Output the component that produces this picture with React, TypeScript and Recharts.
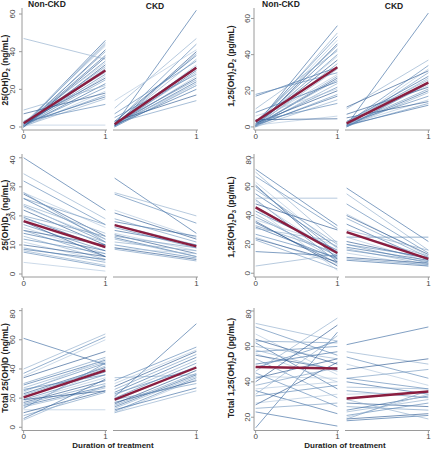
import { LineChart, Line, XAxis, YAxis } from "recharts"

// each pair = [baseline, after treatment], one per patient
const d2NonCkd = [
  [1, 46], [0.5, 45], [1, 44], [2, 43], [0, 41], [1, 40], [0.5, 38], [47, 36], [1, 35], [2, 34],
  [0, 33], [1, 31], [0.5, 30], [3, 29], [1, 28], [0, 27], [2, 26], [1, 25], [0.5, 23], [9, 22],
  [1, 21], [0, 19], [7, 18], [1, 17], [2, 16], [0.5, 15], [3, 12], [1, 1], [0, 37], [1.5, 32],
]
const d2NonCkdMean = [2, 30]
const d2Ckd = [
  [1, 62], [10, 47], [2, 44], [14, 41], [1, 40], [0.5, 39], [3, 38], [1, 36], [7, 35], [0, 33],
  [2, 32], [1, 31], [0.5, 30], [1, 29], [5, 28], [0, 27], [1, 26], [2, 25], [0.5, 24], [1, 23],
  [0, 22], [1.5, 22], [3, 17], [2, 14], [1, 20],
]
const d2CkdMean = [1.5, 31.5]

const d2HormNonCkd = [
  [1, 56], [0.5, 52], [2, 50], [1, 48], [0, 46], [3, 45], [1, 43], [10, 42], [0.5, 40], [2, 39],
  [1, 37], [0, 35], [17, 33], [1, 32], [18, 30], [2, 29], [0.5, 27], [1, 26], [8, 25], [0, 24],
  [1, 22], [6, 21], [2, 20], [0.5, 18], [1, 17], [0, 15], [3, 13], [1, 6], [4, 4.5], [0.5, 28],
]
const d2HormNonCkdMean = [3, 33]
const d2HormCkd = [
  [1, 63], [10, 37], [2, 34], [1, 32], [11, 31], [0.5, 30], [3, 28], [1, 27], [0, 25], [2, 23],
  [7, 22], [1, 21], [0.5, 20], [0, 19], [2, 17], [1, 15], [5, 14], [0.5, 13], [1, 12], [3, 26], [0, 24],
]
const d2HormCkdMean = [2, 24.5]

const d3NonCkd = [
  [40, 22], [34.5, 19], [32, 17], [28, 16], [27.5, 13], [26, 17], [26, 12], [24, 14], [23.5, 11], [23, 12],
  [22, 10], [20, 13], [19.5, 9], [19, 11], [17, 8], [16, 7], [15, 10], [15, 6], [14, 8], [13, 5],
  [12, 7], [11, 4.5], [10, 6], [9, 4], [8.5, 5], [8, 3], [7.5, 2.5], [4, 1], [18, 6], [28, 11],
]
const d3NonCkdMean = [18.2, 9.3]
const d3Ckd = [
  [33, 14], [28, 20], [27.5, 17.5], [22, 12.5], [21, 12], [19, 11], [18, 13], [17, 10], [16, 9], [14, 8],
  [13.5, 7], [13, 9], [12.5, 6], [11, 8], [10, 5.5], [9, 7], [9, 5], [8.5, 4.5], [15, 10], [12, 6],
]
const d3CkdMean = [16.8, 9.5]

const d3HormNonCkd = [
  [72, 33], [70, 21], [67, 31], [63, 17], [61, 10], [58, 20], [55, 18], [52, 52], [51, 8], [50, 13],
  [48, 30], [46, 15], [43, 16], [41, 9], [39, 12], [37, 19], [35, 7], [33, 14], [32, 10], [31, 22],
  [27, 11], [25, 6], [24, 8], [23, 3], [15, 12], [5, 13], [60, 14], [45, 2], [36, 5],
]
const d3HormNonCkdMean = [45.6, 14]
const d3HormCkd = [
  [59, 22], [55, 16], [48, 14], [41, 12], [40, 13], [38, 11], [34, 9], [30, 16], [25, 25], [25, 8],
  [22, 10], [20, 7], [18, 9], [17, 6], [16, 8], [14, 5], [11, 7], [10, 6], [9, 5], [28, 12], [20, 11],
]
const d3HormCkdMean = [28.5, 10]

const totNonCkd = [
  [61, 43], [40, 64], [37, 62], [35, 60], [34, 52], [30, 48], [29, 46], [27, 45], [25, 44], [24, 47],
  [23, 41], [22, 40], [21, 38], [20, 42], [19, 36], [18, 34], [17, 32], [16, 30], [15, 28], [14, 27],
  [13, 44], [12, 12], [10, 25], [8, 24], [6, 33], [5, 29], [26, 36], [15, 40], [19, 25],
]
const totNonCkdMean = [20.5, 39]
const totCkd = [
  [21, 71], [34, 36], [32, 55], [30, 53], [28, 52], [26, 50], [24, 48], [22, 46], [20, 44], [18, 42],
  [16, 39], [15, 37], [14, 36], [13, 35], [11, 34], [10, 33], [17, 32], [19, 30], [12, 27], [10, 25], [23, 41],
]
const totCkdMean = [19, 41]

const totHormNonCkd = [
  [14, 68], [73, 63], [71, 55], [67, 44], [64, 50], [63, 62], [62, 36], [60, 53], [57, 60], [56, 40],
  [55, 47], [53, 31], [50, 57], [46, 76], [45, 26], [43, 42], [40, 72], [38, 48], [35, 22], [33, 66],
  [32, 38], [28, 33], [27, 51], [25, 28], [23, 15], [58, 46], [48, 63], [36, 40], [42, 53],
]
const totHormNonCkdMean = [48.4, 47.5]
const totHormCkd = [
  [61, 71], [57, 50], [54, 42], [50, 38], [47, 53], [42, 47], [40, 33], [37, 36], [35, 31], [33, 34],
  [28, 26], [26, 24], [24, 32], [23, 30], [21, 28], [20, 33], [19, 22], [19, 35], [18, 21], [30, 19], [42, 36],
]
const totHormCkdMean = [30.6, 34.5]

const timeTicks = [0, 1]
const groupTitles = ["Non-CKD", "CKD"]
const xTitle = "Duration of treatment"

const FONT = "'Liberation Sans', Arial, sans-serif"
const BLUES = ["#3b6aa0", "#8eaccb", "#5a85b3", "#aec5dc", "#2a5690", "#7598c0"]
const AXIS = "#9a9a9a"
const PLOT_W = 85

const toSeries = (p: number[]) => [{ t: 0, v: p[0] }, { t: 1, v: p[1] }]

function XTick(props: any) {
  const { x, y, payload } = props
  return (
    <text x={x} y={y} dy="0.71em" textAnchor="middle" fontSize={8} fill="#444" fontFamily={FONT}>
      {payload.value}
    </text>
  )
}

function makeYTick(shift: number) {
  return function YTick(props: any) {
    const { x, y, payload } = props
    const bx = x + shift
    return (
      <text x={bx} y={y} transform={`rotate(-90 ${bx} ${y})`} textAnchor="middle" fontSize={8} fill="#444" fontFamily={FONT}>
        {payload.value}
      </text>
    )
  }
}

type PanelProps = {
  left: number
  top: number
  height: number
  domain: number[]
  ticks: number[]
  lines: number[][]
  mean: number[]
  showY: boolean
  tickShift?: number
}

function Panel({ left, top, height, domain, ticks, lines, mean, showY, tickShift = 0 }: PanelProps) {
  const yw = showY ? 22 : 0
  const mTop = 3
  const mRight = 4
  const xh = 14
  return (
    <div style={{ position: "absolute", left: left - yw, top: top - mTop }}>
      <LineChart width={yw + PLOT_W + mRight} height={mTop + height + xh} margin={{ top: mTop, right: mRight, bottom: 0, left: 0 }}>
        <XAxis
          type="number"
          dataKey="t"
          domain={[-0.02, 1.02]}
          ticks={timeTicks}
          height={xh}
          stroke={AXIS}
          tickSize={3}
          tickMargin={0}
          tick={<XTick />}
        />
        <YAxis
          type="number"
          dataKey="v"
          domain={domain}
          ticks={ticks}
          width={yw}
          hide={!showY}
          stroke={AXIS}
          tickSize={3}
          tickMargin={2}
          tick={makeYTick(tickShift)}
        />
        {lines.map((p, i) => (
          <Line
            key={i}
            data={toSeries(p)}
            dataKey="v"
            stroke={BLUES[i % BLUES.length]}
            strokeWidth={0.8}
            strokeOpacity={0.8}
            dot={false}
            isAnimationActive={false}
            legendType="none"
          />
        ))}
        <Line
          data={toSeries(mean)}
          dataKey="v"
          stroke="#8a1d3f"
          strokeWidth={2.4}
          dot={false}
          isAnimationActive={false}
          legendType="none"
        />
      </LineChart>
    </div>
  )
}

type Part = [string, boolean]

function YTitle({ x, y, parts }: { x: number; y: number; parts: Part[] }) {
  return (
    <text transform={`translate(${x},${y}) rotate(-90)`} textAnchor="middle" fontSize={8.5} fontWeight="bold" fill="#222" fontFamily={FONT}>
      {parts.map(([t, s], i) => {
        const prevSub = i > 0 && parts[i - 1][1]
        return (
          <tspan key={i} fontSize={s ? 6 : 8.5} dy={s ? 2 : prevSub ? -2 : 0}>
            {t}
          </tspan>
        )
      })}
    </text>
  )
}

const boldText = { fontSize: 8.5, fontWeight: "bold" as const, fill: "#222", fontFamily: FONT }

export default function App() {
  const L1 = 22
  const L2 = 112.5
  const R1 = 253.5
  const R2 = 344.5
  return (
    <div style={{ position: "absolute", left: 0, top: 0, width: 433, height: 449, background: "#fff", overflow: "hidden" }}>
      {/* row 1 */}
      <Panel left={L1} top={8} height={122} domain={[-1.6, 63.2]} ticks={[0, 20, 40, 60]} lines={d2NonCkd} mean={d2NonCkdMean} showY tickShift={-2} />
      <Panel left={L2} top={8} height={122} domain={[-1.6, 63.2]} ticks={[0, 20, 40, 60]} lines={d2Ckd} mean={d2CkdMean} showY={false} />
      <Panel left={R1} top={8} height={122} domain={[-1.7, 65.8]} ticks={[0, 20, 40, 60]} lines={d2HormNonCkd} mean={d2HormNonCkdMean} showY tickShift={1.5} />
      <Panel left={R2} top={8} height={122} domain={[-1.7, 65.8]} ticks={[0, 20, 40, 60]} lines={d2HormCkd} mean={d2HormCkdMean} showY={false} />

      {/* row 2 */}
      <Panel left={L1} top={154} height={123} domain={[-1.03, 41.3]} ticks={[0, 10, 20, 30, 40]} lines={d3NonCkd} mean={d3NonCkdMean} showY tickShift={-2} />
      <Panel left={L2} top={154} height={123} domain={[-1.03, 41.3]} ticks={[0, 10, 20, 30, 40]} lines={d3Ckd} mean={d3CkdMean} showY={false} />
      <Panel left={R1} top={154} height={123} domain={[-2.6, 82.6]} ticks={[0, 20, 40, 60, 80]} lines={d3HormNonCkd} mean={d3HormNonCkdMean} showY tickShift={1.5} />
      <Panel left={R2} top={154} height={123} domain={[-2.6, 82.6]} ticks={[0, 20, 40, 60, 80]} lines={d3HormCkd} mean={d3HormCkdMean} showY={false} />

      {/* row 3 */}
      <Panel left={L1} top={308} height={122.5} domain={[-2.2, 81.8]} ticks={[0, 20, 40, 60, 80]} lines={totNonCkd} mean={totNonCkdMean} showY tickShift={-2} />
      <Panel left={L2} top={308} height={122.5} domain={[-2.2, 81.8]} ticks={[0, 20, 40, 60, 80]} lines={totCkd} mean={totCkdMean} showY={false} />
      <Panel left={R1} top={308} height={122.5} domain={[12.5, 81.7]} ticks={[20, 40, 60, 80]} lines={totHormNonCkd} mean={totHormNonCkdMean} showY tickShift={1.5} />
      <Panel left={R2} top={308} height={122.5} domain={[12.5, 81.7]} ticks={[20, 40, 60, 80]} lines={totHormCkd} mean={totHormCkdMean} showY={false} />

      <svg width={433} height={449} style={{ position: "absolute", left: 0, top: 0, pointerEvents: "none" }}>
        <text x={47} y={7} textAnchor="middle" {...boldText}>{groupTitles[0]}</text>
        <text x={155} y={9} textAnchor="middle" {...boldText}>{groupTitles[1]}</text>
        <text x={281} y={7} textAnchor="middle" {...boldText}>{groupTitles[0]}</text>
        <text x={394} y={9} textAnchor="middle" {...boldText}>{groupTitles[1]}</text>

        <YTitle x={8} y={70} parts={[["25(OH)D", false], ["2", true], [" (ng/mL)", false]]} />
        <YTitle x={234} y={66} parts={[["1,25(OH)", false], ["2", true], ["D", false], ["2", true], [" (pg/mL)", false]]} />
        <YTitle x={8} y={215} parts={[["25(OH)D", false], ["3", true], [" (ng/mL)", false]]} />
        <YTitle x={234} y={217} parts={[["1,25(OH)", false], ["2", true], ["D", false], ["3", true], [" (pg/mL)", false]]} />
        <YTitle x={8} y={368} parts={[["Total 25(OH)D (ng/mL)", false]]} />
        <YTitle x={234} y={368} parts={[["Total 1,25(OH)", false], ["2", true], ["D (pg/mL)", false]]} />

        <text x={113} y={448.2} textAnchor="middle" {...boldText} fontSize={8}>{xTitle}</text>
        <text x={345} y={448.2} textAnchor="middle" {...boldText} fontSize={8}>{xTitle}</text>
      </svg>
    </div>
  )
}
